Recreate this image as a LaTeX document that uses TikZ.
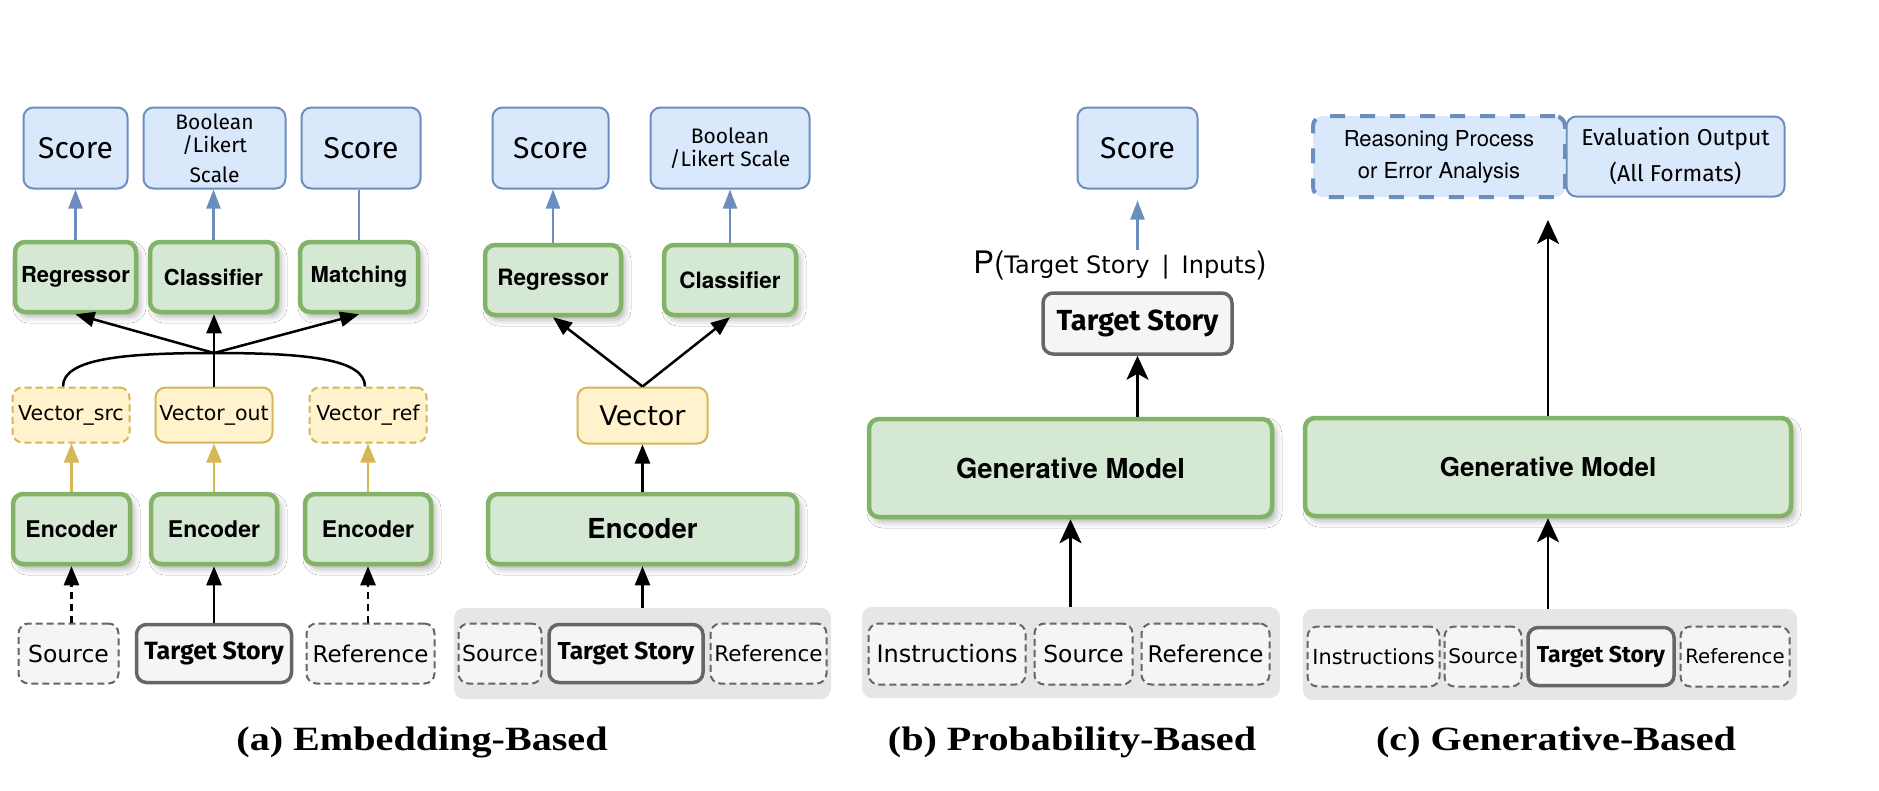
\documentclass[tikz,border=0pt]{standalone}
\usepackage{fontspec}
\setmainfont{TeX Gyre Heros}
\newfontfamily\comic{Fira Sans}
\newfontfamily\helv{TeX Gyre Heros}
\newfontfamily\verd{DejaVu Sans}
\newfontfamily\capf{Liberation Serif}[FakeStretch=1.18]
\usetikzlibrary{arrows.meta,shadows.blur,calc}
\definecolor{blueF}{HTML}{DAE8FC}
\definecolor{blueS}{HTML}{6C8EBF}
\definecolor{greenF}{HTML}{D5E8D4}
\definecolor{greenS}{HTML}{82B366}
\definecolor{yelF}{HTML}{FFF2CC}
\definecolor{yelS}{HTML}{D6B656}
\definecolor{greyF}{HTML}{F5F5F5}
\definecolor{greyS}{HTML}{666666}
\definecolor{bgG}{HTML}{E6E6E6}
\newcommand\fsz[2]{\fontsize{#1}{#2}\selectfont}
\tikzset{
  box/.style={rounded corners=10pt, inner sep=0pt, align=center},
  bluebox/.style={box, draw=blueS, fill=blueF, line width=2pt},
  greenbox/.style={box, draw=greenS, fill=greenF, line width=4.5pt,
    blur shadow={shadow xshift=4pt, shadow yshift=-5pt, shadow blur radius=6pt, shadow opacity=30}},
  yelbox/.style={box, draw=yelS, fill=yelF, line width=2pt},
  yeldash/.style={yelbox, dash pattern=on 7pt off 4pt},
  greydash/.style={box, draw=greyS, fill=greyF, line width=2pt, dash pattern=on 7pt off 4pt},
  tgtbox/.style={box, draw=greyS, fill=greyF, line width=3.5pt},
  bgbox/.style={box, fill=bgG},
  arr/.style={line width=2.5pt, -{Triangle[length=19pt,width=15pt]}},
  blarr/.style={line width=2.2pt, draw=blueS, -{Triangle[length=19pt,width=14pt]}},
  blline/.style={line width=2.2pt, draw=blueS},
  goldarr/.style={line width=2.2pt, draw=yelS, -{Triangle[length=19pt,width=15pt]}},
  starr/.style={line width=2.5pt, -{Stealth[length=24pt,width=22pt,inset=6pt]}},
  captxt/.style={anchor=base, inner sep=0pt, font=\capf\bfseries\fsz{34}{34}},
  wh/.style 2 args={minimum width=#1pt, minimum height=#2pt}
}
\begin{document}
\begin{tikzpicture}[x=1pt,y=-1pt]
\fill[white] (0,0) rectangle (1879,790);
\useasboundingbox (0,0) rectangle (1879,790);

% ---------- (a) left ----------
\node[bluebox, wh={104}{81}, font=\comic\fsz{30}{34}] (sA1) at (75.5,148) {Score};
\node[bluebox, wh={142}{81}, font=\comic\fsz{21}{23}] (bA1) at (214.5,148) {Boolean\\/Likert\\[7pt]Scale};
\node[bluebox, wh={119}{81}, font=\comic\fsz{30}{34}] (sA3) at (361,148) {Score};
\node[greenbox, wh={121}{70}, font=\helv\bfseries\fsz{22}{26}] (rA) at (75.5,277) {Regressor};
\node[greenbox, wh={127}{70}, font=\helv\bfseries\fsz{22}{26}] (cA) at (213.5,277) {Classifier};
\node[greenbox, wh={118}{70}, font=\helv\bfseries\fsz{22}{26}] (mA) at (359,277) {Matching};
\node[yeldash, wh={117}{55}, font=\verd\fsz{20.5}{24}] (vsA) at (71,415) {Vector\_src};
\node[yelbox, wh={117}{55}, font=\verd\fsz{20.5}{24}] (voA) at (214,415) {Vector\_out};
\node[yeldash, wh={117}{55}, font=\verd\fsz{20.5}{24}] (vrA) at (368,415) {Vector\_ref};
\node[greenbox, wh={117}{70}, font=\helv\bfseries\fsz{23}{27}] (eA1) at (71.5,529) {Encoder};
\node[greenbox, wh={126}{70}, font=\helv\bfseries\fsz{23}{27}] (eA2) at (214,529) {Encoder};
\node[greenbox, wh={126}{70}, font=\helv\bfseries\fsz{23}{27}] (eA3) at (368,529) {Encoder};
\node[greydash, wh={100}{60}, font=\verd\fsz{23.5}{27}] (srcA) at (68.5,653.5) {Source};
\node[tgtbox, wh={155}{58}, font=\comic\bfseries\fsz{25}{29}] (tgtA) at (214,653.5) {Target Story};
\node[greydash, wh={128}{60}, font=\verd\fsz{23}{27}] (refA) at (370.5,653.5) {Reference};

\draw[blarr] (rA) -- (sA1);
\draw[blarr] (cA.north) -- (cA.north |- bA1.south);
\draw[blline] (mA.north) -- (mA.north |- sA3.south);
\draw[goldarr] (eA1.north) -- (eA1.north |- vsA.south);
\draw[goldarr] (eA2) -- (voA);
\draw[goldarr] (eA3) -- (vrA);
\draw[arr, dash pattern=on 7pt off 5pt] (eA1.south |- srcA.north) -- (eA1.south);
\draw[arr] (tgtA) -- (eA2);
\draw[arr, dash pattern=on 7pt off 5pt] (eA3.south |- refA.north) -- (eA3.south);
\coordinate (J) at (214,353);
\draw[arr] (J) -- (rA.south);
\draw[arr] (J) -- (mA.south);
\draw[arr] (voA.north) -- (voA.north |- cA.south);
\draw[line width=2.5pt] ([xshift=-8pt]vsA.north) .. controls +(0,-28) and +(-90,0) .. (J);
\draw[line width=2.5pt] ([xshift=-3pt]vrA.north) .. controls +(0,-28) and +(90,0) .. (J);

% ---------- (a) right ----------
\node[bluebox, wh={116}{81}, font=\comic\fsz{30}{34}] (sA2) at (550.5,148) {Score};
\node[bluebox, wh={159}{81}, font=\comic\fsz{21}{23}] (bA2) at (730,148) {Boolean\\/Likert Scale};
\node[greenbox, wh={136}{70}, font=\helv\bfseries\fsz{22.5}{26}] (rA2) at (553,280) {Regressor};
\node[greenbox, wh={132}{70}, font=\helv\bfseries\fsz{22.5}{26}] (cA2) at (730,280) {Classifier};
\node[yelbox, wh={130}{56}, font=\verd\fsz{27}{30}] (vA2) at (642.5,415.5) {Vector};
\node[greenbox, wh={309}{70}, font=\helv\bfseries\fsz{27.5}{31}] (eA2b) at (642.5,529) {Encoder};
\node[bgbox, wh={377}{91}] (bgA) at (642.5,653.5) {};
\node[greydash, wh={83}{60}, font=\verd\fsz{22}{26}] (srcA2) at (500,653.5) {Source};
\node[tgtbox, wh={154}{58}, font=\comic\bfseries\fsz{24.5}{28}] (tgtA2) at (626,653.5) {Target Story};
\node[greydash, wh={116}{60}, font=\verd\fsz{21.5}{25}] (refA2) at (768.5,653.5) {Reference};

\draw[blarr] (rA2.north) -- (rA2.north |- sA2.south);
\draw[blarr] (cA2) -- (bA2);
\draw[arr] (vA2.north) -- (rA2.south);
\draw[arr] (vA2.north) -- (cA2.south);
\draw[arr] (eA2b) -- (vA2);
\draw[arr] (bgA) -- (eA2b);

% ---------- (b) ----------
\node[bluebox, wh={120}{81}, font=\comic\fsz{30}{34}] (sB) at (1137.5,148) {Score};
\node[anchor=base, inner sep=0pt] (pB) at (1120,273) {{\helv\fsz{31}{31}P(}{\verd\fsz{24}{26}Target Story\hspace{12pt}|\hspace{12pt}Inputs}{\helv\fsz{31}{31})}};
\node[tgtbox, wh={189}{61}, font=\comic\bfseries\fsz{29}{33}] (tgtB) at (1137.5,323.5) {Target Story};
\node[greenbox, wh={403}{98}, font=\helv\bfseries\fsz{27.5}{31}] (gB) at (1070.5,468) {Generative Model};
\node[bgbox, wh={418}{91}] (bgB) at (1071,652.5) {};
\node[greydash, wh={157}{61}, font=\verd\fsz{24}{28}] (instB) at (947,654) {Instructions};
\node[greydash, wh={98}{61}, font=\verd\fsz{23.4}{27}] (srcB) at (1083.5,654) {Source};
\node[greydash, wh={128}{61}, font=\verd\fsz{23}{27}] (refB) at (1205.5,654) {Reference};

\draw[blarr] (sB.south |- pB.north) -- ([yshift=-11pt]sB.south);
\draw[starr] (tgtB.south |- gB.north) -- (tgtB.south);
\draw[starr] (gB.south |- bgB.north) -- (gB.south);

% ---------- (c) ----------
\node[bluebox, line width=4pt, dash pattern=on 15pt off 15pt, wh={252}{81}, font=\helv\fsz{22}{32}] (rsC) at (1439,156.5) {Reasoning Process\\or Error Analysis};
\node[bluebox, wh={218}{80}, font=\comic\fsz{23}{36}] (evC) at (1675.5,156.5) {Evaluation Output\\(All Formats)};
\node[greenbox, wh={486}{98}, font=\helv\bfseries\fsz{26}{30}] (gC) at (1548,467) {Generative Model};
\node[bgbox, wh={494}{91}] (bgC) at (1550,654.5) {};
\node[greydash, wh={132}{60}, font=\verd\fsz{20.8}{25}] (instC) at (1373.5,656.5) {Instructions};
\node[greydash, wh={77}{60}, font=\verd\fsz{20.2}{24}] (srcC) at (1483,656.5) {Source};
\node[tgtbox, wh={146}{58}, font=\comic\bfseries\fsz{23}{27}] (tgtC) at (1601,656.5) {Target Story};
\node[greydash, wh={109}{60}, font=\verd\fsz{19.7}{24}] (refC) at (1735,656.5) {Reference};

\coordinate (cTop) at (1548,220);
\draw[starr] (gC.north) -- (cTop);
\draw[starr] (gC.south |- bgC.north) -- (gC.south);

% ---------- captions ----------
\node[captxt] (capA) at (422,750) {(a) Embedding-Based};
\node[captxt] (capB) at (1072,750) {(b) Probability-Based};
\node[captxt] (capC) at (1556,750) {(c) Generative-Based};
\end{tikzpicture}
\end{document}
